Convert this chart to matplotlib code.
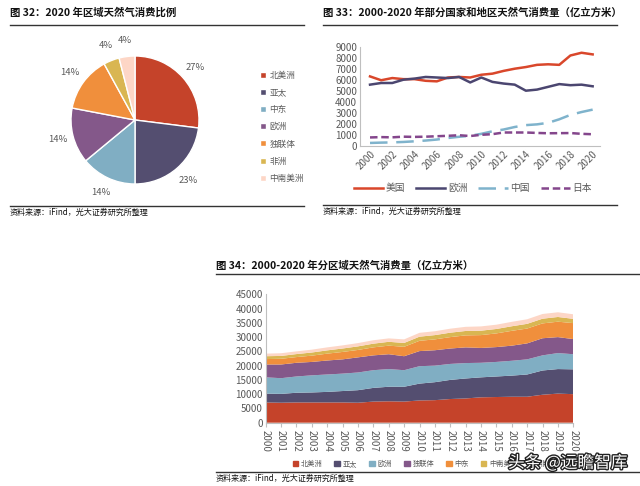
import numpy as np
import matplotlib
matplotlib.use("Agg")
import matplotlib.pyplot as plt
import matplotlib.patheffects as pe
from matplotlib.lines import Line2D
from matplotlib.patches import Patch

plt.rcParams['font.family'] = ['Noto Sans CJK SC', 'DejaVu Sans']

# ---- pie data (2020 share by region) ----
pie_regions = ['北美洲', '亚太', '中东', '欧洲', '独联体', '非洲', '中南美洲']
pie_share = [27, 23, 14, 14, 14, 4, 4]
pie_colors = ['#C5432A', '#544E70', '#80AEC3', '#84588A', '#F08F3C', '#D9B652', '#FDD6C6']

# ---- line data: selected countries ----
line_years = list(range(2000, 2021))
usa = [6300, 5950, 6150, 6050, 6050, 5900, 5850, 6200, 6250, 6200, 6450,
       6550, 6800, 7000, 7150, 7350, 7400, 7350, 8200, 8450, 8300]
europe = [5550, 5700, 5700, 6000, 6100, 6250, 6200, 6150, 6250, 5750, 6200,
          5800, 5650, 5550, 5000, 5100, 5350, 5600, 5500, 5550, 5400]
china = [250, 280, 300, 340, 400, 470, 560, 700, 810, 900, 1080,
         1310, 1470, 1700, 1870, 1940, 2080, 2400, 2800, 3060, 3280]
japan = [750, 780, 760, 820, 800, 820, 860, 900, 950, 880, 990,
         1050, 1200, 1200, 1200, 1160, 1130, 1140, 1150, 1080, 1040]

# ---- stacked area data: by region ----
area_years = list(range(2000, 2021))
na = [7100, 7000, 7100, 7100, 7100, 7100, 7000, 7400, 7500, 7400, 7800,
      7900, 8300, 8500, 8900, 9000, 9100, 9100, 9800, 10200, 10000]
ap = [3100, 3100, 3400, 3500, 3700, 4000, 4400, 4800, 5100, 5200, 5900,
      6300, 6700, 7000, 7000, 7200, 7400, 7800, 8500, 8600, 8700]
eu = [5700, 5500, 5700, 6000, 6100, 6100, 6200, 6200, 6200, 5800, 6100,
      5800, 5600, 5400, 5100, 5100, 5200, 5300, 5300, 5600, 5300]
cis = [4500, 4800, 4800, 4700, 4900, 5000, 5300, 5200, 5200, 4900, 5300,
       5400, 5400, 5500, 5200, 5200, 5300, 5600, 6000, 5600, 5300]
me = [1900, 2000, 2000, 2200, 2400, 2600, 2600, 2800, 3000, 3300, 3600,
      3800, 4000, 4200, 4500, 4800, 5200, 5200, 5200, 5400, 5600]
csa = [1000, 1000, 1050, 1100, 1150, 1200, 1250, 1300, 1350, 1350, 1450,
       1500, 1550, 1550, 1550, 1550, 1600, 1650, 1650, 1650, 1500]
africa = [900, 950, 950, 1000, 1050, 1100, 1150, 1200, 1200, 1250, 1350,
          1350, 1400, 1450, 1500, 1500, 1550, 1600, 1650, 1650, 1600]
area_labels = ['北美洲', '亚太', '欧洲', '独联体', '中东', '中南美洲', '非洲']
area_colors = ['#C5432A', '#544E70', '#80AEC3', '#84588A', '#F08F3C', '#D9B652', '#FDD6C6']

W, H = 640, 486
fig = plt.figure(figsize=(6.4, 4.86), dpi=100)
tick_c = '#595959'

def fx(x):
    return x / W

def fy(y):
    return 1 - y / H

def header(x0, x1, y_title, y_line, title, y_src_line, y_src):
    fig.text(fx(x0), fy(y_title), title, fontsize=7.5, fontweight='bold', va='center', color='#111111')
    fig.add_artist(Line2D([fx(x0), fx(x1)], [fy(y_line)] * 2, color='#333333', lw=1.0))
    fig.add_artist(Line2D([fx(x0), fx(x1)], [fy(y_src_line)] * 2, color='#333333', lw=1.0))
    fig.text(fx(x0), fy(y_src), '资料来源：iFind，光大证券研究所整理', fontsize=5.8, va='center', color='#111111')

# ---------------- pie ----------------
header(10, 304, 12, 25, '图 32：2020 年区域天然气消费比例', 206, 212)
cx, cy, r = 135, 120, 64
ax1 = fig.add_axes([fx(cx - 1.5 * r), fy(cy + 1.5 * r), 3 * r / W, 3 * r / H])
wedges, _, autotexts = ax1.pie(pie_share, colors=pie_colors, startangle=90, counterclock=False,
                               autopct='%.0f%%', pctdistance=1.25,
                               wedgeprops=dict(edgecolor='white', linewidth=1.0),
                               textprops=dict(fontsize=6.8, color=tick_c))
ax1.set_xlim(-1.5, 1.5)
ax1.set_ylim(-1.5, 1.5)
ax1.set_aspect('auto')
ax1.axis('off')
fig.legend(wedges, pie_regions, loc='upper left', bbox_to_anchor=(fx(252), fy(63)),
           frameon=False, fontsize=6.2, handlelength=0.7, handleheight=0.7,
           handletextpad=0.4, labelspacing=0.95, labelcolor=tick_c)

# ---------------- lines ----------------
header(323, 617, 13, 25, '图 33：2000-2020 年部分国家和地区天然气消费量（亿立方米）', 205, 211)
ax2 = fig.add_axes([fx(360), fy(145.7), (600 - 360) / W, (145.7 - 46.7) / H])
ax2.plot(line_years, usa, color='#D9472B', lw=1.8, label='美国')
ax2.plot(line_years, europe, color='#4B4670', lw=1.8, label='欧洲')
ax2.plot(line_years, china, color='#7FB3CC', lw=1.8, dashes=(7, 3.5), label='中国')
ax2.plot(line_years, japan, color='#84468C', lw=1.8, dashes=(3, 1.5), label='日本')
ax2.set_xlim(1999.1, 2020.66)
ax2.set_ylim(0, 9000)
ax2.set_yticks(range(0, 9001, 1000))
ax2.set_xticks(range(2000, 2021, 2))
ax2.set_xticklabels([str(y) for y in range(2000, 2021, 2)], rotation=45, ha='right', rotation_mode='anchor')
ax2.tick_params(labelsize=7, colors=tick_c, length=0, pad=2)
for s in ['top', 'right']:
    ax2.spines[s].set_visible(False)
for s in ['left', 'bottom']:
    ax2.spines[s].set_color('#BFBFBF')
    ax2.spines[s].set_linewidth(0.8)
fig.legend(*ax2.get_legend_handles_labels(), loc='center', bbox_to_anchor=(fx(473), fy(188)),
           ncol=4, frameon=False, fontsize=7, handlelength=3.0, columnspacing=1.1,
           handletextpad=0.3, labelcolor=tick_c)

# ---------------- stacked area ----------------
header(216, 640, 266, 274, '图 34：2000-2020 年分区域天然气消费量（亿立方米）', 472, 478)
ax3 = fig.add_axes([fx(265.7), fy(422.7), (573.3 - 265.7) / W, (422.7 - 294.3) / H])
ax3.stackplot(area_years, na, ap, eu, cis, me, csa, africa, colors=area_colors,
              labels=area_labels, lw=0)
ax3.set_xlim(2000, 2020)
ax3.set_ylim(0, 45000)
ax3.set_yticks(range(0, 45001, 5000))
ax3.set_xticks(area_years)
ax3.set_xticklabels([str(y) for y in area_years], rotation=-90)
ax3.tick_params(labelsize=7, colors=tick_c, pad=2)
ax3.tick_params(axis='y', length=0)
ax3.tick_params(axis='x', length=3, color='#BFBFBF')
for s in ['top', 'right']:
    ax3.spines[s].set_visible(False)
for s in ['left', 'bottom']:
    ax3.spines[s].set_color('#BFBFBF')
    ax3.spines[s].set_linewidth(0.8)
handles = [Patch(color=c) for c in area_colors]
fig.legend(handles, area_labels, loc='center left', bbox_to_anchor=(fx(286), fy(464)),
           ncol=7, frameon=False, fontsize=5.2, handlelength=0.8, handleheight=0.8,
           handletextpad=0.4, columnspacing=1.6, labelcolor=tick_c)

# watermark
fig.text(fx(508), fy(463), '头条 @远瞻智库', fontsize=12, color='white', va='center', zorder=10,
         path_effects=[pe.withStroke(linewidth=2, foreground='#222222')])

fig.savefig('out.png', dpi=100)
